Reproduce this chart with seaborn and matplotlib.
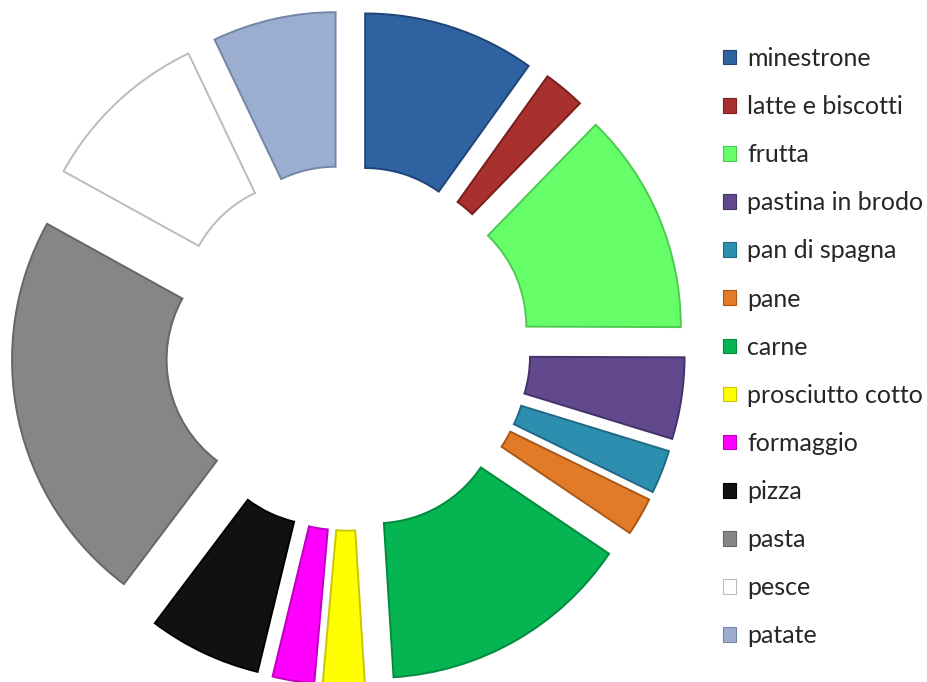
import matplotlib
matplotlib.use("Agg")
import matplotlib.pyplot as plt
from matplotlib.patches import Patch
import seaborn as sns

labels = ['minestrone', 'latte e biscotti', 'frutta', 'pastina in brodo', 'pan di spagna',
          'pane', 'carne', 'prosciutto cotto', 'formaggio', 'pizza', 'pasta', 'pesce', 'patate']
values = [9.9, 2.4, 12.8, 4.7, 2.5, 2.2, 14.6, 2.4, 2.4, 6.5, 22.8, 9.9, 7.1]
colors = ['#2F62A0', '#A8302E', '#66FF6A', '#62488C', '#2D8FAF', '#E27B27', '#05B552',
          '#FFFF00', '#FF00FF', '#111111', '#868686', '#FFFFFF', '#9BAED0']
edges = ['#1F4578', '#7A1F1E', '#4CCB50', '#46326A', '#1F6A84', '#A9581A', '#038A3D',
         '#C8C800', '#C000C0', '#000000', '#666666', '#BBBBBB', '#7486A8']

sns.set_theme(style="white")
plt.rcParams['font.family'] = ['Lato', 'DejaVu Sans']

W, H = 927, 682
fig = plt.figure(figsize=(W / 100, H / 100), dpi=100)
fig.patch.set_facecolor('white')

# pie centre and scale in pixels
cx, cy, lim = 348, 348, 1.24
side = 2 * lim * 281
ax = fig.add_axes([(cx - side / 2) / W, (H - cy - side / 2) / H, side / W, side / H])

wedges, _ = ax.pie(values, colors=colors, startangle=90, counterclock=False,
                   explode=[0.2] * len(values), radius=1,
                   wedgeprops=dict(width=0.55, linewidth=1.4))
for w, e in zip(wedges, edges):
    w.set_edgecolor(e)

ax.set_xlim(-lim, lim)
ax.set_ylim(-lim, lim)
ax.set_aspect('equal')
ax.axis('off')

handles = [Patch(facecolor=c, edgecolor=e, linewidth=0.8) for c, e in zip(colors, edges)]
fig.legend(handles, labels, loc='upper left', bbox_to_anchor=(723 / W, 1 - 47 / H),
           frameon=False, fontsize=18, handlelength=0.52, handleheight=0.52,
           handletextpad=0.45, labelspacing=1.005, borderpad=0, borderaxespad=0)

fig.savefig('out.png', dpi=100, facecolor='white')
